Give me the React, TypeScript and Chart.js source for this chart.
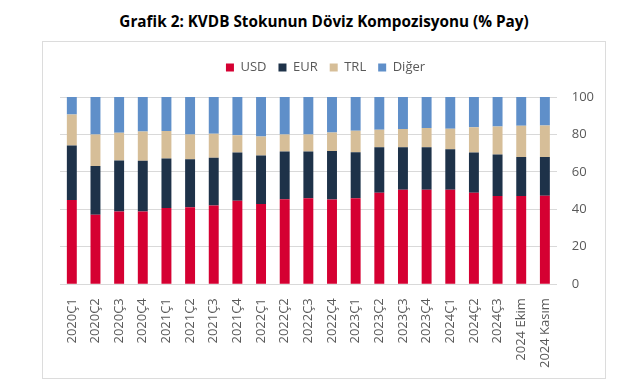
import React, { useEffect, useRef } from "react";
import { Chart, registerables } from "chart.js";

Chart.register(...registerables);

const categories = [
  "2020Ç1", "2020Ç2", "2020Ç3", "2020Ç4",
  "2021Ç1", "2021Ç2", "2021Ç3", "2021Ç4",
  "2022Ç1", "2022Ç2", "2022Ç3", "2022Ç4",
  "2023Ç1", "2023Ç2", "2023Ç3", "2023Ç4",
  "2024Ç1", "2024Ç2", "2024Ç3", "2024 Ekim", "2024 Kasım",
];

const usd = [45.0, 37.1, 38.9, 38.8, 40.7, 41.1, 42.1, 44.6, 42.9, 45.4, 45.9, 45.2, 45.9, 48.8, 50.4, 50.4, 50.5, 48.9, 47.1, 47.1, 47.3];
const eur = [29.1, 26.1, 27.2, 27.1, 26.4, 25.7, 25.4, 25.8, 25.9, 25.5, 25.0, 25.9, 24.6, 24.4, 22.8, 22.8, 21.6, 21.5, 22.2, 20.9, 20.6];
const trl = [16.6, 16.8, 14.8, 15.7, 14.7, 13.2, 12.9, 9.1, 10.1, 9.1, 9.1, 10.0, 11.5, 9.3, 9.7, 10.2, 10.9, 13.5, 15.0, 16.6, 16.9];
const diger = [9.3, 20.0, 19.1, 18.4, 18.2, 20.0, 19.6, 20.5, 21.1, 20.0, 20.0, 18.9, 18.0, 17.5, 17.1, 16.6, 17.0, 16.1, 15.7, 15.4, 15.2];

const yTicks = [0, 20, 40, 60, 80, 100];

const FONT = "'Open Sans', 'Noto Sans', sans-serif";
const GRAY = "#595959";

export default function App() {
  const ref = useRef<HTMLCanvasElement | null>(null);

  useEffect(() => {
    if (!ref.current) return;
    const legendSpacer = {
      id: "legendSpacer",
      beforeInit(chart: any) {
        const lg = chart.legend;
        if (!lg) return;
        const origFit = lg.fit;
        lg.fit = function () {
          origFit.call(this);
          this.height += 13;
        };
      },
      afterLayout(chart: any) {
        const lg = chart.legend;
        if (!lg) return;
        lg.left -= 9;
        lg.right -= 9;
      },
    };
    const chart = new Chart(ref.current, {
      type: "bar",
      data: {
        labels: categories,
        datasets: [
          { label: "USD", data: usd, backgroundColor: "#d50032" },
          { label: "EUR", data: eur, backgroundColor: "#1e3249" },
          { label: "TRL", data: trl, backgroundColor: "#d6be98" },
          { label: "Diğer", data: diger, backgroundColor: "#5f8fc9" },
        ],
      },
      options: {
        animation: false,
        responsive: false,
        maintainAspectRatio: false,
        datasets: { bar: { barPercentage: 0.42, categoryPercentage: 1 } },
        layout: { padding: { top: 49, left: 60, right: 14, bottom: 14 } },
        plugins: {
          title: { display: false },
          tooltip: { enabled: false },
          legend: {
            position: "top",
            labels: {
              boxWidth: 8,
              boxHeight: 8,
              padding: 12,
              color: GRAY,
              font: { family: FONT, size: 13 },
            },
          },
        },
        scales: {
          x: {
            stacked: true,
            grid: { display: false },
            border: { display: false },
            ticks: {
              minRotation: 90,
              maxRotation: 90,
              autoSkip: false,
              padding: 6,
              color: GRAY,
              font: { family: FONT, size: 13 },
            },
          },
          y: {
            stacked: true,
            position: "right",
            min: 0,
            max: 100,
            afterBuildTicks(axis: any) {
              axis.ticks = yTicks.map((v) => ({ value: v }));
            },
            grid: { color: "#d9d9d9", lineWidth: 1, drawTicks: false },
            border: { display: false },
            ticks: {
              padding: 15,
              color: GRAY,
              font: { family: FONT, size: 13 },
            },
          },
        },
      },
      plugins: [legendSpacer],
    });
    return () => chart.destroy();
  }, []);

  return (
    <div style={{ position: "absolute", left: 0, top: 0, width: 623, height: 388, background: "#fff" }}>
      <div
        style={{
          position: "absolute",
          left: 0,
          width: 648,
          top: 11,
          textAlign: "center",
          fontFamily: FONT,
          fontWeight: 700,
          fontSize: 15.3,
          color: "#000",
        }}
      >
        Grafik 2: KVDB Stokunun Döviz Kompozisyonu (% Pay)
      </div>
      <div
        style={{
          position: "absolute",
          left: 42,
          top: 41,
          width: 562,
          height: 336,
          border: "1.5px solid #dcdcdc",
        }}
      />
      <canvas ref={ref} width={623} height={388} style={{ position: "absolute", left: 0, top: 0 }} />
    </div>
  );
}
